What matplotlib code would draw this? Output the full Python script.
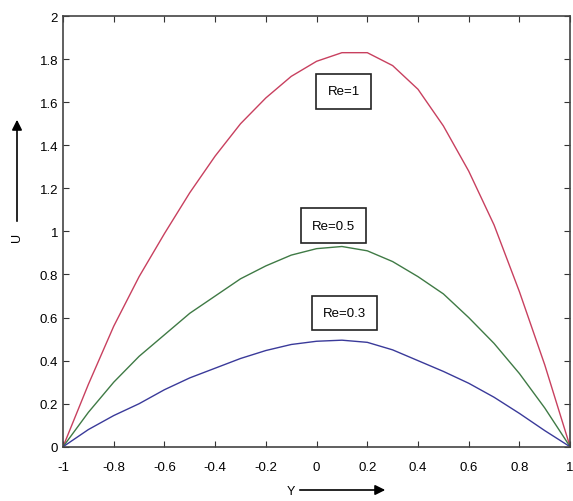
import matplotlib
matplotlib.use('Agg')
import matplotlib.pyplot as plt
import numpy as np

plt.rcParams['font.family'] = ['Liberation Sans', 'DejaVu Sans']

y_pos = [-1, -0.9, -0.8, -0.7, -0.6, -0.5, -0.4, -0.3, -0.2, -0.1, 0,
         0.1, 0.2, 0.3, 0.4, 0.5, 0.6, 0.7, 0.8, 0.9, 1]
u_re1 = [0, 0.29, 0.56, 0.79, 0.99, 1.18, 1.35, 1.50, 1.62, 1.72, 1.79,
         1.83, 1.83, 1.77, 1.66, 1.49, 1.28, 1.03, 0.72, 0.38, 0]
u_re05 = [0, 0.16, 0.30, 0.42, 0.52, 0.62, 0.70, 0.78, 0.84, 0.89, 0.92,
          0.93, 0.91, 0.86, 0.79, 0.71, 0.60, 0.48, 0.34, 0.18, 0]
u_re03 = [0, 0.08, 0.145, 0.20, 0.265, 0.32, 0.365, 0.41, 0.447, 0.475, 0.49,
          0.495, 0.485, 0.45, 0.40, 0.35, 0.295, 0.23, 0.155, 0.075, 0]

labels = ['Re=1', 'Re=0.5', 'Re=0.3']
label_xy = [(0.107, 1.65), (0.067, 1.027), (0.11, 0.62)]

fig = plt.figure(figsize=(5.73, 5.02), dpi=100)
ax = fig.add_axes([0.110, 0.108, 0.885, 0.858])

ax.plot(y_pos, u_re1, color='#c8405f', lw=1)
ax.plot(y_pos, u_re05, color='#3f7a45', lw=1)
ax.plot(y_pos, u_re03, color='#3a3a9a', lw=1)

for txt, (tx, ty) in zip(labels, label_xy):
    ax.text(tx, ty, txt, ha='center', va='center', fontsize=9.5,
            bbox=dict(boxstyle='square,pad=0.85', fc='white', ec='#222222', lw=1.2))

ax.set_xlim(-1, 1)
ax.set_ylim(0, 2)
ax.set_xticks(np.arange(-1, 1.01, 0.2))
ax.set_xticklabels(['-1', '-0.8', '-0.6', '-0.4', '-0.2', '0', '0.2', '0.4', '0.6', '0.8', '1'])
ax.set_yticks(np.arange(0, 2.01, 0.2))
ax.set_yticklabels(['0', '0.2', '0.4', '0.6', '0.8', '1', '1.2', '1.4', '1.6', '1.8', '2'])
ax.tick_params(direction='in', top=True, right=True, labelsize=9.5, length=4, color='#333333')
ax.tick_params(axis='x', pad=10)
for s in ax.spines.values():
    s.set_color('#444444')
    s.set_linewidth(1.2)

# axis labels with arrows
fig.text(17/573, 1 - 237/502, 'U', rotation=90, ha='center', va='center', fontsize=9)
fig.add_artist(matplotlib.patches.FancyArrowPatch(
    (17/573, 1 - 225/502), (17/573, 1 - 118/502), transform=fig.transFigure,
    arrowstyle='-|>,head_length=6,head_width=3', color='black', lw=1.2))
fig.text(291/573, 1 - 492/502, 'Y', ha='center', va='center', fontsize=9)
fig.add_artist(matplotlib.patches.FancyArrowPatch(
    (297/573, 1 - 491/502), (388/573, 1 - 491/502), transform=fig.transFigure,
    arrowstyle='-|>,head_length=6,head_width=3', color='black', lw=1.2))

fig.savefig('out.png', dpi=100)
